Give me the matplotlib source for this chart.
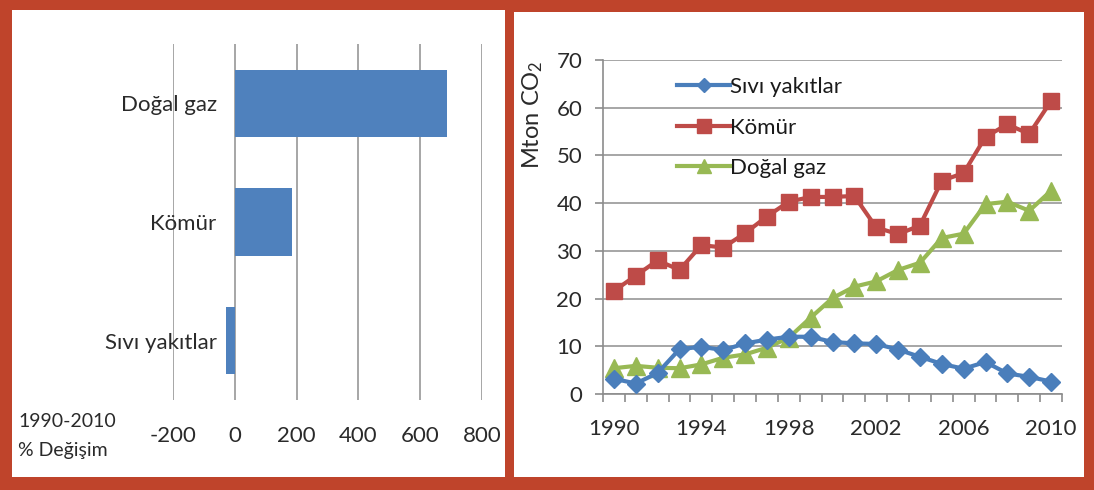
import matplotlib
matplotlib.use("Agg")
import matplotlib.pyplot as plt
from matplotlib.patches import Rectangle
import numpy as np

plt.rcParams['font.family'] = ['Lato', 'DejaVu Sans']
plt.rcParams['mathtext.fontset'] = 'custom'
plt.rcParams['mathtext.rm'] = 'Lato'
plt.rcParams['mathtext.it'] = 'Lato:italic'
plt.rcParams['mathtext.bf'] = 'Lato:bold'

# ---- data: left bar chart (1990-2010 % change) ----
bar_categories = ["Sıvı yakıtlar", "Kömür", "Doğal gaz"]
bar_values = [-29, 185, 686]
bar_ticks = [-200, 0, 200, 400, 600, 800]

# ---- data: right line chart (Mton CO2) ----
years = list(range(1990, 2011))
sivi = [3.2, 2.2, 4.4, 9.4, 9.9, 9.2, 10.6, 11.4, 12.0, 12.0, 10.9, 10.6, 10.5,
        9.3, 7.8, 6.3, 5.3, 6.7, 4.3, 3.6, 2.6]
komur = [21.6, 24.8, 28.0, 26.0, 31.2, 30.7, 33.7, 37.2, 40.3, 41.3, 41.3, 41.5,
         34.9, 33.5, 35.3, 44.7, 46.3, 53.9, 56.5, 54.5, 61.4]
dogalgaz = [5.4, 5.9, 5.5, 5.4, 6.2, 7.6, 8.3, 9.7, 11.8, 16.0, 20.1, 22.5, 23.6,
            26.0, 27.5, 32.7, 33.6, 39.8, 40.3, 38.4, 42.6]
series_names = ["Sıvı yakıtlar", "Kömür", "Doğal gaz"]
year_labels = [1990, 1994, 1998, 2002, 2006, 2010]
y_ticks = [0, 10, 20, 30, 40, 50, 60, 70]

W, H = 1094, 490
DPI = 100
fig = plt.figure(figsize=(W / DPI, H / DPI), dpi=DPI)
fig.patch.set_facecolor("#BF442B")

def fx(px):
    return px / W

def fy(py):
    return 1 - py / H

# white panels
fig.patches.append(Rectangle((fx(12), fy(477)), fx(505 - 12), (477 - 10) / H,
                             transform=fig.transFigure, facecolor="white",
                             edgecolor="none", zorder=-10))
fig.patches.append(Rectangle((fx(514), fy(477)), fx(1084 - 514), (477 - 12) / H,
                             transform=fig.transFigure, facecolor="white",
                             edgecolor="none", zorder=-10))

text_col = "#2A2A2A"
grid_col = "#A6A6A6"

# ---------------- left bar chart ----------------
axL = fig.add_axes([fx(173), fy(400), fx(482 - 173), (400 - 44) / H])
axL.set_facecolor("none")
axL.spines['left'].set_position(('data', 0))
ypos = np.arange(len(bar_categories))
axL.barh(ypos, bar_values, height=0.57, color="#4F81BD", zorder=3)
axL.set_xlim(-200, 800)
axL.set_ylim(-0.5, len(bar_categories) - 0.5)
axL.set_xticks(bar_ticks)
axL.set_xticklabels([str(t) for t in bar_ticks])
axL.set_yticks(ypos)
axL.set_yticklabels(bar_categories)
axL.tick_params(axis="x", length=0, pad=19, labelsize=16, labelcolor=text_col)
axL.tick_params(axis="y", length=0, pad=13, labelsize=16, labelcolor=text_col)
for s in axL.spines.values():
    s.set_visible(False)
axL.xaxis.grid(True, color=grid_col, linewidth=1.4, zorder=0)
axL.set_axisbelow(True)
fig.text(fx(18), fy(421), "1990-2010", fontsize=14, color=text_col, ha="left", va="center")
fig.text(fx(18), fy(450), "% Değişim", fontsize=14, color=text_col, ha="left", va="center")

# ---------------- right line chart ----------------
axR = fig.add_axes([fx(603), fy(394), fx(1062 - 603), (394 - 60) / H])
axR.set_facecolor("none")
x = np.arange(len(years))
c_blue, c_red, c_green = "#4A7EBB", "#BE4B48", "#98B954"
axR.plot(x, sivi, color=c_blue, lw=3, marker="D", ms=9, mec=c_blue, label=series_names[0], zorder=4)
axR.plot(x, komur, color=c_red, lw=3, marker="s", ms=12, mec=c_red, label=series_names[1], zorder=3)
axR.plot(x, dogalgaz, color=c_green, lw=3, marker="^", ms=13, mec=c_green, label=series_names[2], zorder=3)
axR.set_xlim(-0.5, len(years) - 0.5)
axR.set_ylim(0, 70)
axR.set_yticks(y_ticks)
axR.set_yticklabels([str(t) for t in y_ticks], fontsize=16, color=text_col)
axR.yaxis.grid(True, color=grid_col, linewidth=1.4, zorder=0)
axR.set_axisbelow(True)
axR.tick_params(axis="y", length=6, width=1.2, color="#8C8C8C", pad=9)
# category boundary ticks (major), year labels (minor)
axR.set_xticks(np.arange(-0.5, len(years), 1.0))
axR.set_xticklabels([])
axR.set_xticks([years.index(y) for y in year_labels], minor=True)
axR.set_xticklabels([str(y) for y in year_labels], minor=True, fontsize=16, color=text_col)
axR.tick_params(axis="x", which="major", length=6, width=1.2, color="#8C8C8C")
axR.tick_params(axis="x", which="minor", length=0, pad=18)
for side in ["top", "right"]:
    axR.spines[side].set_visible(False)
for side in ["left", "bottom"]:
    axR.spines[side].set_color("#8C8C8C")
    axR.spines[side].set_linewidth(1.2)

leg = axR.legend(loc="upper left", bbox_to_anchor=(fx(668 - 603) / fx(459), 1 - (68 - 60) / 334),
                 frameon=False, fontsize=16, handlelength=2.4, handletextpad=0.0,
                 labelspacing=0.93, borderaxespad=0, markerscale=0.8)
for t in leg.get_texts():
    t.set_color("#1a1a1a")

fig.text(fx(533), fy(60), "Mton CO$_\\mathregular{2}$", rotation=90, fontsize=17,
         color=text_col, ha="center", va="top")

fig.savefig("out.png", dpi=DPI, facecolor=fig.get_facecolor())
